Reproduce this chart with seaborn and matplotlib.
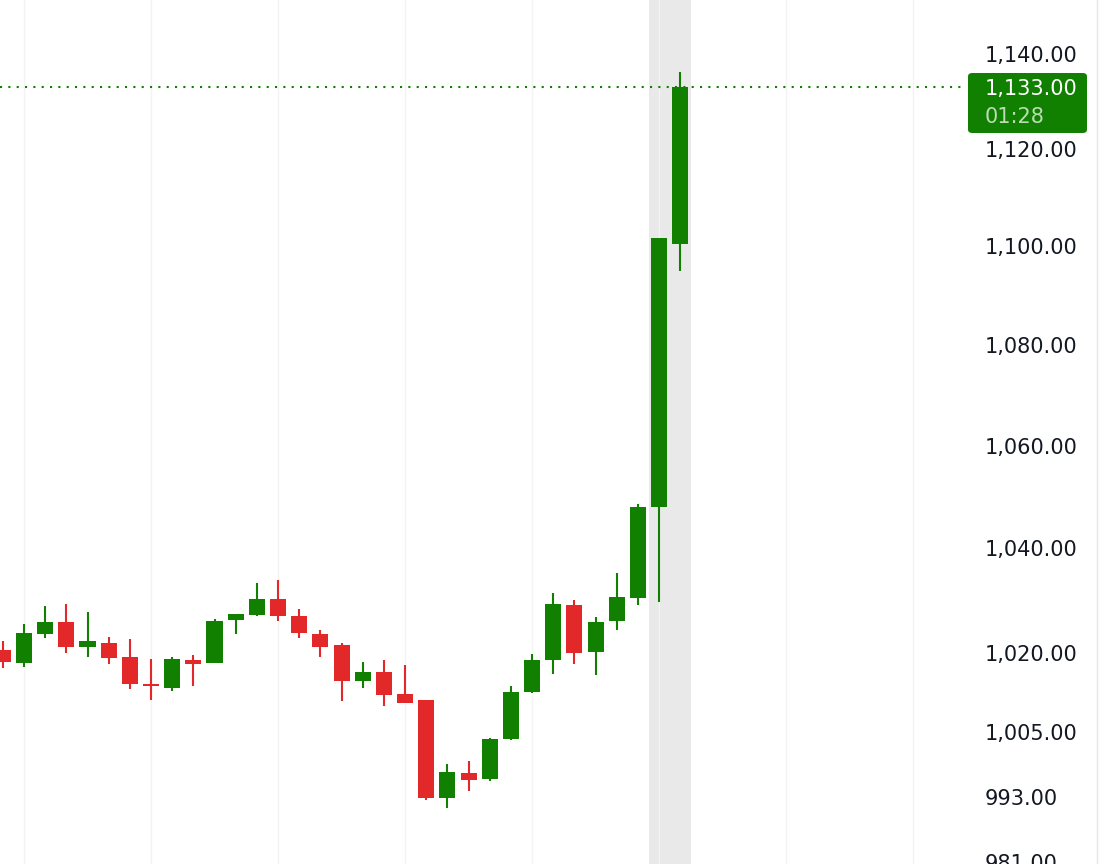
import numpy as np, pandas as pd
import matplotlib; matplotlib.use('Agg')
import matplotlib.pyplot as plt
import seaborn as sns
from matplotlib.patches import FancyBboxPatch
from matplotlib.ticker import FixedLocator, NullLocator

# OHLC (oldest -> newest)
opens  = [1020.4, 1018.1, 1023.6, 1025.9, 1021.1, 1021.9, 1019.1, 1014.1, 1013.3, 1018.5,
          1018.1, 1026.2, 1027.2, 1030.2, 1027.0, 1023.6, 1021.5, 1014.6, 1016.3, 1012.2,
          1011.0, 992.8, 997.4, 996.3, 1003.7, 1012.5, 1018.5, 1029.1, 1020.2, 1026.0,
          1030.4, 1048.0, 1100.4]
highs  = [1022.1, 1025.5, 1028.9, 1029.3, 1027.7, 1023.0, 1022.5, 1018.7, 1019.2, 1019.6,
          1026.4, 1027.3, 1033.2, 1033.8, 1028.3, 1024.3, 1021.9, 1018.3, 1018.5, 1017.7,
          1011.0, 999.1, 999.7, 1003.9, 1013.6, 1019.8, 1031.4, 1030.0, 1026.8, 1035.2,
          1048.6, 1101.6, 1136.2]
lows   = [1017.0, 1017.2, 1022.8, 1020.0, 1019.1, 1017.8, 1013.1, 1011.1, 1012.7, 1013.6,
          1018.1, 1023.6, 1027.0, 1026.0, 1022.7, 1019.2, 1010.8, 1013.3, 1009.9, 1010.5,
          992.5, 991.0, 994.1, 996.0, 1003.5, 1012.4, 1015.9, 1017.9, 1015.7, 1024.3,
          1029.0, 1029.7, 1094.9]
closes = [1018.3, 1023.8, 1025.9, 1021.1, 1022.1, 1018.9, 1014.0, 1013.6, 1018.7, 1017.9,
          1026.0, 1027.3, 1030.2, 1027.0, 1023.8, 1021.1, 1014.6, 1016.3, 1012.0, 1010.5,
          992.8, 997.6, 996.2, 1003.7, 1012.5, 1018.5, 1029.3, 1020.0, 1025.9, 1030.6,
          1048.0, 1101.6, 1133.0]

ytick_vals = [981, 993, 1005, 1020, 1040, 1060, 1080, 1100, 1120, 1140]
last_price = 1133.00
last_label = "1,133.00"
timer_label = "01:28"

GREEN = "#118000"
RED = "#e22828"

df = pd.DataFrame({"open": opens, "high": highs, "low": lows, "close": closes})
df["idx"] = np.arange(len(df))
df["up"] = df["close"] >= df["open"]
df["color"] = np.where(df["up"], GREEN, RED)

sns.set_style("white")
plt.rcParams['font.family'] = ['DejaVu Sans']

fig = plt.figure(figsize=(11, 8.64), dpi=100)
ax = fig.add_axes([0, 0, 965 / 1100, 1])

# highlighted band over the last two candles
n = len(df)
ax.axvspan(n - 2 - 0.5, n - 1 + 0.5, color="#e9e9e9", zorder=0, lw=0)

# faint vertical grid every 6 bars
for gx in range(1, 46, 6):
    ax.axvline(gx, color="#f3f3f3", lw=1, zorder=0.5)

# wicks and bodies
ax.vlines(df["idx"], df["low"], df["high"], colors=df["color"], lw=1.5, zorder=2)
bottoms = df[["open", "close"]].min(axis=1)
heights = (df["open"] - df["close"]).abs().clip(lower=0.35)
ax.bar(df["idx"], heights, bottom=bottoms, width=0.76, color=df["color"], lw=0, zorder=3)

# last price dotted line
ax.axhline(last_price, color=GREEN, lw=1.5, ls=(0, (1, 3)), zorder=1)

ax.set_yscale("log")
ax.set_ylim(980.7, 1151.5)
ax.set_xlim(-0.134, 45.45)
ax.yaxis.set_major_locator(FixedLocator(ytick_vals))
ax.yaxis.set_minor_locator(NullLocator())
ax.set_yticklabels([f"{v:,.2f}" for v in ytick_vals])
ax.yaxis.tick_right()
ax.tick_params(axis="y", length=0, pad=14.4, labelsize=15, labelcolor="#131722")
ax.set_xticks([])
for s in ax.spines.values():
    s.set_visible(False)

# price tag on the scale
box = FancyBboxPatch((968 / 1100, 731 / 864), 119 / 1100, 60 / 864,
                     boxstyle="round,pad=0,rounding_size=0.004",
                     transform=fig.transFigure, facecolor=GREEN, edgecolor="none", zorder=5)
fig.patches.append(box)
fig.text(985 / 1100, 1 - 89 / 864, last_label, color="white", fontsize=15,
         va="center", ha="left", zorder=6)
fig.text(985 / 1100, 1 - 117 / 864, timer_label, color="#b9dcb3", fontsize=15,
         va="center", ha="left", zorder=6)

# right border of the price scale
fig.add_artist(plt.Line2D([1096.5 / 1100] * 2, [0, 1], color="#e6e6e6", lw=1,
                          transform=fig.transFigure))

fig.savefig("out.png", dpi=100)
